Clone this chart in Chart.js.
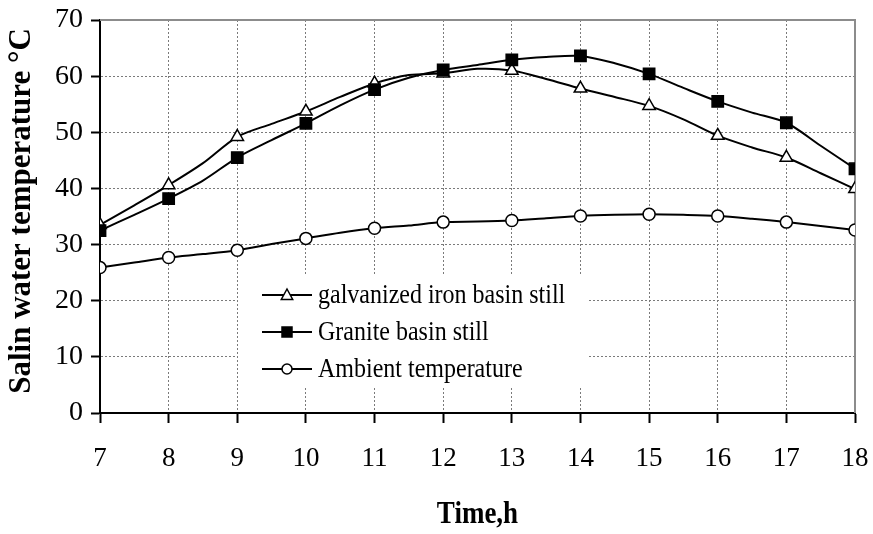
<!DOCTYPE html>
<html>
<head>
<meta charset="utf-8">
<script src="https://cdn.jsdelivr.net/npm/chart.js@4/dist/chart.umd.min.js"></script>
<style>
  html, body { margin: 0; padding: 0; background: #fff; }
  #wrap { width: 873px; height: 534px; }
</style>
</head>
<body>
<div id="wrap"><canvas id="c" width="873" height="534"></canvas></div>
<script>
// Time of day (h), sampled every half hour; markers sit on the full hours
const hours = [7, 7.5, 8, 8.5, 9, 9.5, 10, 10.5, 11, 11.5, 12, 12.5, 13, 13.5, 14, 14.5, 15, 15.5, 16, 16.5, 17, 17.5, 18];

// Saline water temperature in the galvanized iron basin still (°C)
const galvanized = [33.5, 37.0, 40.6, 44.5, 49.2, 51.5, 53.7, 56.3, 58.7, 60.2, 60.5, 61.3, 61.0, 59.5, 57.8, 56.3, 54.7, 52.3, 49.4, 47.3, 45.5, 42.7, 39.9];

// Saline water temperature in the granite basin still (°C)
const granite = [32.5, 35.3, 38.2, 41.4, 45.5, 48.6, 51.6, 54.8, 57.6, 59.7, 61.1, 62.0, 62.9, 63.4, 63.6, 62.3, 60.4, 57.9, 55.5, 53.5, 51.7, 47.6, 43.5];

// Ambient air temperature (°C)
const ambient = [25.9, 26.8, 27.7, 28.3, 29.0, 30.1, 31.1, 32.1, 32.9, 33.4, 34.0, 34.1, 34.3, 34.7, 35.1, 35.3, 35.4, 35.3, 35.1, 34.6, 34.0, 33.3, 32.6];

const seriesNames = ['galvanized iron basin still', 'Granite basin still', 'Ambient temperature'];

const xTicks = [7, 8, 9, 10, 11, 12, 13, 14, 15, 16, 17, 18];
const yTicks = [0, 10, 20, 30, 40, 50, 60, 70];

const xTitle = 'Time,h';
const yTitle = 'Salin water temperature °C';

const SERIF = '"Liberation Serif", "Times New Roman", serif';

function toPoints(values) {
  return values.map((v, i) => ({ x: hours[i], y: v }));
}

function onHour(size) {
  return ctx => (ctx.raw && Number.isInteger(ctx.raw.x)) ? size : 0;
}

// Marker shapes used in both the plot and the legend
const markers = [
  { style: 'triangle', fill: '#fff', radius: 7.2, legendSize: 6 },
  { style: 'rect', fill: '#000', radius: 8, legendSize: 5 },
  { style: 'circle', fill: '#fff', radius: 6, legendSize: 5 }
];

function drawMarker(ctx, style, x, y, s, fill) {
  ctx.save();
  ctx.beginPath();
  if (style === 'triangle') {
    ctx.moveTo(x, y - s);
    ctx.lineTo(x + s * 0.95, y + s * 0.75);
    ctx.lineTo(x - s * 0.95, y + s * 0.75);
    ctx.closePath();
  } else if (style === 'rect') {
    ctx.rect(x - s, y - s, 2 * s, 2 * s);
  } else {
    ctx.arc(x, y, s, 0, Math.PI * 2);
  }
  ctx.fillStyle = fill;
  ctx.fill();
  ctx.lineWidth = 1.5;
  ctx.strokeStyle = '#000';
  ctx.stroke();
  ctx.restore();
}

// Text drawn slightly taller than wide, like the serif lettering of the axes
function tallText(ctx, text, x, y, stretch) {
  ctx.save();
  ctx.translate(x, y);
  ctx.scale(1, stretch);
  ctx.fillText(text, 0, 0);
  ctx.restore();
}

// Frame on the top and right of the plot, plus the legend panel inside it
const framePlugin = {
  id: 'frame',
  beforeDatasetsDraw(chart) {
    const { ctx, chartArea: a } = chart;
    ctx.save();
    ctx.strokeStyle = '#8c8c8c';
    ctx.lineWidth = 2;
    ctx.beginPath();
    ctx.moveTo(a.left, a.top);
    ctx.lineTo(a.right, a.top);
    ctx.lineTo(a.right, a.bottom);
    ctx.stroke();

    // legend panel
    const bx = 238, by = 275, bw = 349, bh = 113;
    ctx.fillStyle = '#fff';
    ctx.fillRect(bx, by, bw, bh);
    const rows = [295, 332, 369];
    ctx.font = '24px ' + SERIF;
    ctx.textBaseline = 'middle';
    ctx.textAlign = 'left';
    chart.data.datasets.forEach((ds, i) => {
      const ry = rows[i];
      ctx.strokeStyle = '#000';
      ctx.lineWidth = 2;
      ctx.beginPath();
      ctx.moveTo(262, ry);
      ctx.lineTo(312, ry);
      ctx.stroke();
      drawMarker(ctx, markers[i].style, 287, ry, markers[i].legendSize, markers[i].fill);
      ctx.fillStyle = '#000';
      tallText(ctx, ds.label, 318, ry + 1, 1.1);
    });
    ctx.restore();
  },
  afterDraw(chart) {
    const { ctx, chartArea: a } = chart;
    ctx.save();
    ctx.fillStyle = '#000';
    ctx.textAlign = 'center';
    ctx.textBaseline = 'middle';
    ctx.font = 'bold 27px ' + SERIF;
    tallText(ctx, xTitle, (a.left + a.right) / 2, 515, 1.2);
    ctx.font = 'bold 31px ' + SERIF;
    ctx.translate(22, 211);
    ctx.rotate(-Math.PI / 2);
    ctx.fillText(yTitle, 0, 0);
    ctx.restore();
  }
};

const datasets = [galvanized, granite, ambient].map((vals, i) => ({
  label: seriesNames[i],
  data: toPoints(vals),
  borderColor: '#000',
  borderWidth: 2,
  tension: 0.3,
  pointStyle: markers[i].style,
  pointRadius: onHour(markers[i].radius),
  pointHoverRadius: onHour(markers[i].radius),
  pointBackgroundColor: markers[i].fill,
  pointBorderColor: '#000',
  pointBorderWidth: 1.5,
  order: [2, 1, 3][i]
}));

new Chart(document.getElementById('c'), {
  type: 'line',
  data: { datasets },
  options: {
    responsive: false,
    animation: false,
    events: [],
    layout: { padding: { top: 20, right: 18, left: 0, bottom: 0 } },
    plugins: { legend: { display: false }, tooltip: { enabled: false } },
    scales: {
      x: {
        type: 'linear',
        min: 7,
        max: 18,
        afterBuildTicks: s => { s.ticks = xTicks.map(v => ({ value: v })); },
        afterFit: s => { s.height = 121; s.paddingLeft = 0; s.paddingRight = 0; },
        ticks: {
          color: '#000',
          font: { family: SERIF, size: 27 },
          padding: 20,
          maxRotation: 0
        },
        grid: {
          color: '#7a7a7a',
          lineWidth: 1,
          tickColor: '#000',
          tickLength: 10,
          tickWidth: 2
        },
        border: { color: '#000', width: 2, dash: [2, 2] }
      },
      y: {
        type: 'linear',
        min: 0,
        max: 70,
        afterBuildTicks: s => { s.ticks = yTicks.map(v => ({ value: v })); },
        afterFit: s => { s.width = 100; s.paddingTop = 0; s.paddingBottom = 0; },
        ticks: {
          color: '#000',
          font: { family: SERIF, size: 28 },
          padding: 8
        },
        grid: {
          color: '#7a7a7a',
          lineWidth: 1,
          tickColor: '#000',
          tickLength: 9,
          tickWidth: 2
        },
        border: { color: '#000', width: 2, dash: [2, 2] }
      }
    }
  },
  plugins: [framePlugin]
});
</script>
</body>
</html>
